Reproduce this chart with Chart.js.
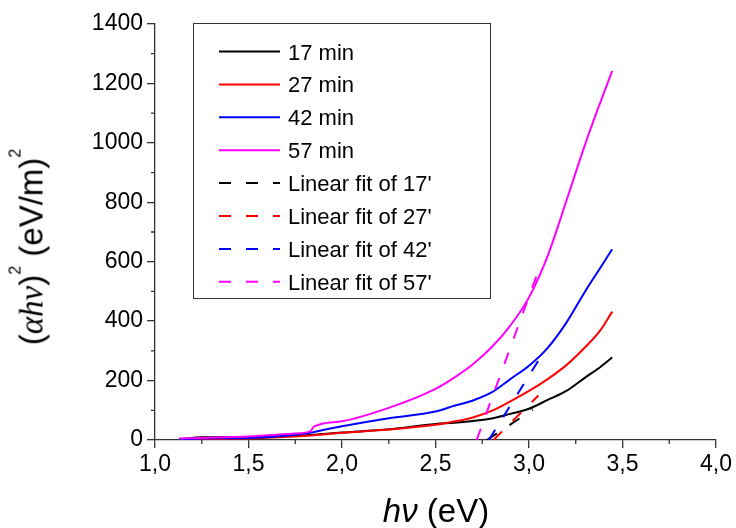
<!DOCTYPE html>
<html>
<head>
<meta charset="utf-8">
<script src="https://cdn.jsdelivr.net/npm/chart.js@4.4.1/dist/chart.umd.min.js"></script>
<style>
  body { margin: 0; background: #fff; }
  #wrap { position: relative; width: 736px; height: 528px; overflow: hidden; }
  .title { position: absolute; white-space: nowrap; font-family: 'Liberation Sans', Arial, sans-serif;
           font-size: 33px; line-height: 33px; color: #000; }
  .sup { font-size: 16px; position: relative; top: -22px; }
  .gk { font-family: 'Liberation Serif', 'Times New Roman', serif; font-style: italic; }
</style>
</head>
<body>
<div id="wrap">
  <canvas id="tauc" width="736" height="528"></canvas>
  <div class="title" style="left:34px; top:247px; transform: translate(-50%,-50%) rotate(-90deg);">(<span class="gk">αhν</span>)<span class="sup">2</span> (eV/m)<span class="sup">2</span></div>
  <div class="title" style="left:436px; top:510px; transform: translate(-50%,-50%);"><i>hν</i> (eV)</div>
</div>
<script>
// photon energy grid shared by the measured curves (eV)
var hv = [1.13, 1.25, 1.5, 1.75, 1.83, 1.85, 2.0, 2.25, 2.5, 2.6, 2.7, 2.8, 2.9, 3.0, 3.1, 3.2, 3.3, 3.38, 3.445];
var y17 = [3, 9, 10, 15, 17, 18, 25, 36, 54, 58, 64, 72, 88, 105, 135, 165, 210, 245, 278];
var y27 = [2, 3, 5, 12, 15, 16, 24, 35, 51, 62, 76, 98, 130, 165, 205, 252, 312, 368, 432];
var y42 = [3, 5, 7, 18, 24, 27, 46, 73, 96, 115, 133, 160, 205, 250, 310, 395, 500, 578, 642];
var y57 = [5, 7, 12, 22, 29, 45, 63, 108, 172, 210, 255, 312, 385, 480, 620, 805, 995, 1134, 1242];

// linear fit end points
var fitX17 = [2.775, 3.02], fitY17 = [0, 102];
var fitX27 = [2.81, 3.05], fitY27 = [0, 150];
var fitX42 = [2.785, 3.06], fitY42 = [0, 277];
var fitX57 = [2.72, 3.055], fitY57 = [0, 578];

var labels = ['17 min', '27 min', '42 min', '57 min',
  "Linear fit of 17'", "Linear fit of 27'", "Linear fit of 42'", "Linear fit of 57'"];
var colors = ['#000000', '#ff0000', '#0000ff', '#ff00ff'];
var xTicks = [1.0, 1.5, 2.0, 2.5, 3.0, 3.5, 4.0];
var yTicks = [0, 200, 400, 600, 800, 1000, 1200, 1400];

var axisColor = '#333333';
var font = "'Liberation Sans', Arial, sans-serif";

function pts(xs, ys) {
  return xs.map(function (x, i) { return {x: x, y: ys[i]}; });
}

var series = [pts(hv, y17), pts(hv, y27), pts(hv, y42), pts(hv, y57),
  pts(fitX17, fitY17), pts(fitX27, fitY27), pts(fitX42, fitY42), pts(fitX57, fitY57)];

var datasets = series.map(function (d, i) {
  return {
    label: labels[i],
    data: d,
    showLine: true,
    cubicInterpolationMode: 'monotone',
    borderColor: colors[i % 4],
    borderWidth: 2,
    borderDash: i < 4 ? [] : [12, 15],
    pointRadius: 0,
    order: 8 - i
  };
});

// minor tick marks between the labelled ones
var minorTicks = {
  id: 'minorTicks',
  afterDraw: function (chart) {
    var ctx = chart.ctx, area = chart.chartArea;
    var x = chart.scales.x, y = chart.scales.y;
    ctx.save();
    ctx.strokeStyle = axisColor;
    ctx.lineWidth = 1.3;
    ctx.beginPath();
    for (var i = 0; i < xTicks.length - 1; i++) {
      var px = x.getPixelForValue((xTicks[i] + xTicks[i + 1]) / 2);
      ctx.moveTo(px, area.bottom);
      ctx.lineTo(px, area.bottom + 4);
    }
    for (var j = 0; j < yTicks.length - 1; j++) {
      var py = y.getPixelForValue((yTicks[j] + yTicks[j + 1]) / 2);
      ctx.moveTo(area.left, py);
      ctx.lineTo(area.left - 4, py);
    }
    ctx.stroke();
    ctx.restore();
  }
};

// boxed legend inside the plot, like the original
var boxLegend = {
  id: 'boxLegend',
  afterDatasetsDraw: function (chart) {
    var ctx = chart.ctx;
    var left = 193, top = 23, right = 490, bottom = 298;
    ctx.save();
    ctx.fillStyle = '#fff';
    ctx.fillRect(left, top, right - left, bottom - top);
    ctx.strokeStyle = axisColor;
    ctx.lineWidth = 1;
    ctx.strokeRect(left + 0.5, top + 0.5, right - left, bottom - top);
    ctx.font = '22px ' + font;
    ctx.textBaseline = 'alphabetic';
    chart.data.datasets.forEach(function (ds, i) {
      var ry = 51.5 + i * 32.9;
      ctx.strokeStyle = ds.borderColor;
      ctx.lineWidth = 2;
      ctx.setLineDash(ds.borderDash);
      ctx.beginPath();
      ctx.moveTo(219, ry);
      ctx.lineTo(280, ry);
      ctx.stroke();
      ctx.setLineDash([]);
      ctx.fillStyle = '#000';
      ctx.fillText(ds.label, 288, ry + 8);
    });
    ctx.restore();
  }
};

new Chart(document.getElementById('tauc'), {
  type: 'scatter',
  data: {datasets: datasets},
  options: {
    responsive: false,
    animation: false,
    layout: {padding: {left: 0, right: 20, top: 24, bottom: 0}},
    plugins: {legend: {display: false}, tooltip: {enabled: false}},
    scales: {
      x: {
        type: 'linear',
        min: 1, max: 4,
        afterFit: function (s) { s.height = 88; },
        afterBuildTicks: function (s) { s.ticks = xTicks.map(function (v) { return {value: v}; }); },
        border: {display: true, color: axisColor, width: 1.3},
        grid: {drawOnChartArea: false, drawTicks: true, tickLength: 8, color: axisColor, lineWidth: 1.3},
        ticks: {
          color: '#000', padding: 3,
          font: {family: font, size: 23},
          callback: function (v) { return v.toFixed(1).replace('.', ','); }
        }
      },
      y: {
        min: 0, max: 1400,
        afterFit: function (s) { s.width = 155; },
        afterBuildTicks: function (s) { s.ticks = yTicks.map(function (v) { return {value: v}; }); },
        border: {display: true, color: axisColor, width: 1.3},
        grid: {drawOnChartArea: false, drawTicks: true, tickLength: 8, color: axisColor, lineWidth: 1.3},
        ticks: {
          color: '#000', padding: 4,
          font: {family: font, size: 23},
          callback: function (v) { return String(v); }
        }
      }
    }
  },
  plugins: [minorTicks, boxLegend]
});
</script>
</body>
</html>
